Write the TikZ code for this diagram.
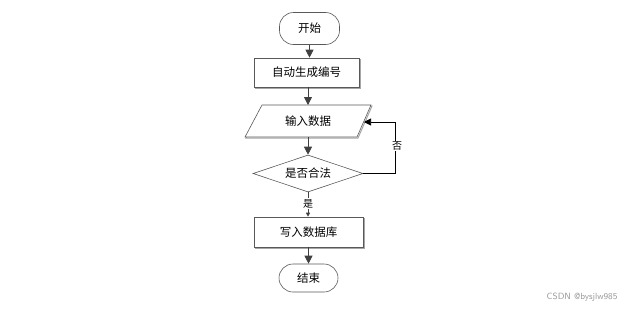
\documentclass[tikz,border=0pt]{standalone}
\usepackage{fontspec}
\newfontfamily\cjk{Noto Sans CJK SC}
\usetikzlibrary{arrows.meta,shapes.geometric}
\begin{document}
\begin{tikzpicture}[x=1pt,y=-1pt,
  box/.style={draw=black!65,line width=0.6pt,fill=white,font=\cjk\fontsize{11.5}{13}\selectfont,inner sep=0pt},
  shadowed/.style={preaction={draw=black!35,line width=1pt,transform canvas={shift={(1pt,-1pt)}}}},
  arr/.style={draw=black!75,line width=0.8pt,-{Triangle[length=8pt,width=8pt]}},
  sarr/.style={draw=black!75,line width=0.8pt,-{Triangle[length=4pt,width=4pt]}},
  lbl/.style={font=\cjk\fontsize{10}{12}\selectfont,fill=white,inner sep=1pt}]
\useasboundingbox (0,0) rectangle (628,308);
\node[box,rounded corners=14pt,minimum width=60pt,minimum height=32pt] (start) at (309.5,28.5) {开始};
\node[box,shadowed,minimum width=105pt,minimum height=29pt] (gen) at (306.5,72.5) {自动生成编号};
\draw[box,shadowed] (262,105) -- (371,105) -- (357,137) -- (245,137) -- cycle;
\node[font=\cjk\fontsize{11.5}{13}\selectfont] (input) at (308,121) {输入数据};
\coordinate (inR) at (364,122);
\coordinate (inB) at (308,137);
\coordinate (inT) at (308,105);
\node[box,diamond,aspect=3,minimum width=110pt,minimum height=37pt] (check) at (308,173.5) {是否合法};
\node[box,shadowed,minimum width=109pt,minimum height=30pt] (write) at (308.5,232) {写入数据库};
\node[box,rounded corners=14pt,minimum width=59pt,minimum height=28pt] (end) at (308.5,278) {结束};
\coordinate (fb) at (395,173.5);
\coordinate (fbt) at (395,122);
\draw[arr] (start) -- (gen.north -| start);
\draw[arr] (gen.south -| inT) -- (inT);
\draw[arr] (inB) -- (check.north);
\draw[draw=black,line width=0.6pt,-{Triangle[length=7pt,width=7pt]}] (check.east) -- (fb) -- (fbt) -- (inR);
\node[lbl] (no) at (397,146) {否};
\draw[sarr] (check.south) -- (write.north -| check.south);
\node[lbl] (yes) at (308,203.5) {是};
\draw[arr] (write.south -| end) -- (end);
\node[font=\sffamily\fontsize{9}{10}\selectfont,text=black!40,anchor=east] (wm) at (621,297) {CSDN @bysjlw985};
\end{tikzpicture}
\end{document}
